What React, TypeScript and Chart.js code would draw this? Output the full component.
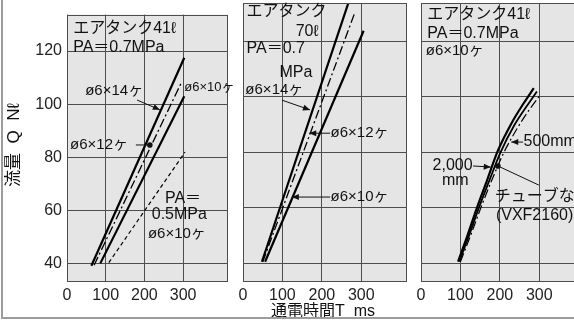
import React, { useEffect, useRef } from 'react';
import { Chart, registerables } from 'chart.js';
Chart.register(...registerables);

// ---------- shared axes ----------
const xTicks = [0, 100, 200, 300];
const yTicks = [40, 60, 80, 100, 120];
const xMin = 0;
const xMax = 416;
const yMin = 33.2;
const yMax = 133.7;

// ---------- panel 1 : air tank 41ℓ, PA=0.7MPa ----------
const p1Pipe14T = [63, 303];
const p1Pipe14Q = [39.3, 117.5];
const p1Pipe12T = [70, 295];
const p1Pipe12Q = [39.5, 108];
const p1Pipe10T = [86, 303];
const p1Pipe10Q = [40.2, 103];
const p1LowPa10T = [108, 305];
const p1LowPa10Q = [40.5, 82];

// ---------- panel 2 : air tank 70ℓ, PA=0.7MPa ----------
const p2Pipe14T = [48, 275];
const p2Pipe14Q = [40.5, 137];
const p2Pipe12T = [50, 283];
const p2Pipe12Q = [40.4, 130];
const p2Pipe10T = [56, 306];
const p2Pipe10Q = [40.5, 123.7];

// ---------- panel 3 : air tank 41ℓ, PA=0.7MPa, ø6×10 ----------
const p3Tube2000T = [94, 118, 142, 168, 195, 230, 260, 286];
const p3Tube2000Q = [40.5, 50, 60, 70, 80.5, 90.5, 97.5, 103];
const p3Tube500T = [97, 122, 147, 174, 202, 238, 268, 294];
const p3Tube500Q = [40.5, 50, 60, 70, 80, 90, 96.5, 101.8];
const p3NoTubeT = [100, 126, 152, 180, 209, 246, 276, 302];
const p3NoTubeQ = [40.5, 50, 60, 70, 79.5, 89, 95.5, 100.5];

const GRID = '#4d4d4d';
const BG = '#e5e5e5';
const FONT = '"Liberation Sans", Arial, "Noto Sans CJK JP", sans-serif';

const SOLID: number[] = [];
const DASHDOT = [9, 3, 2, 3];
const DASHED = [4, 3];

type Note = { text: string; x: number; y: number; align?: CanvasTextAlign; size?: number };
type Leader = { from: [number, number]; to: [number, number]; head: 'arrow' | 'dot' | 'none' };
type Series = { t: number[]; q: number[]; width: number; dash: number[]; curve?: boolean };
type Panel = {
  left: number;
  width: number;
  padLeft: number;
  padRight: number;
  yAxisWidth: number;
  showY: boolean;
  series: Series[];
  notes: Note[];
  leaders: Leader[];
  extra?: (ctx: CanvasRenderingContext2D, chart: any) => void;
};

const panels: Panel[] = [
  {
    left: 0,
    width: 240,
    padLeft: 0,
    padRight: 12,
    yAxisWidth: 67,
    showY: true,
    series: [
      { t: p1Pipe14T, q: p1Pipe14Q, width: 2.2, dash: SOLID },
      { t: p1Pipe12T, q: p1Pipe12Q, width: 1.3, dash: DASHDOT },
      { t: p1Pipe10T, q: p1Pipe10Q, width: 2.2, dash: SOLID },
      { t: p1LowPa10T, q: p1LowPa10Q, width: 1.2, dash: DASHED },
    ],
    notes: [
      { text: 'エアタンク41ℓ', x: 16, y: 128.6 },
      { text: 'PA＝0.7MPa', x: 16, y: 121.4 },
      { text: 'ø6×14ヶ', x: 47, y: 105.2, size: 15 },
      { text: 'ø6×10ヶ', x: 303, y: 106.5, size: 13 },
      { text: 'ø6×12ヶ', x: 8, y: 84.7, size: 15 },
      { text: 'PA＝', x: 253, y: 64.5 },
      { text: '0.5MPa', x: 219, y: 58.4 },
      { text: 'ø6×10ヶ', x: 209, y: 51.2, size: 15 },
    ],
    leaders: [
      { from: [181, 101.6], to: [240, 97.9], head: 'arrow' },
      { from: [178, 84.7], to: [214, 84.7], head: 'dot' },
    ],
    extra: (ctx) => {
      ctx.save();
      ctx.translate(14, 145);
      ctx.rotate(-Math.PI / 2);
      ctx.font = `17px ${FONT}`;
      ctx.fillStyle = '#111';
      ctx.textAlign = 'center';
      ctx.textBaseline = 'middle';
      ctx.fillText('流量  Q  Nℓ', 0, 0);
      ctx.restore();
    },
  },
  {
    left: 232,
    width: 186,
    padLeft: 11,
    padRight: 11,
    yAxisWidth: 0,
    showY: false,
    series: [
      { t: p2Pipe14T, q: p2Pipe14Q, width: 2.2, dash: SOLID },
      { t: p2Pipe12T, q: p2Pipe12Q, width: 1.3, dash: DASHDOT },
      { t: p2Pipe10T, q: p2Pipe10Q, width: 2.2, dash: SOLID },
    ],
    notes: [
      { text: 'エアタンク', x: 9, y: 130.5 },
      { text: '70ℓ', x: 192, y: 123.5, align: 'right' },
      { text: 'PA＝0.7', x: 9, y: 117.1 },
      { text: 'MPa', x: 176, y: 108.8, align: 'right' },
      { text: 'ø6×14ヶ', x: 153, y: 102.3, align: 'right', size: 15 },
      { text: 'ø6×12ヶ', x: 222, y: 86.8, size: 15 },
      { text: 'ø6×10ヶ', x: 222, y: 63.8, size: 15 },
    ],
    leaders: [
      { from: [99, 98.7], to: [170, 95.2], head: 'arrow' },
      { from: [221, 86.8], to: [168, 86.8], head: 'arrow' },
      { from: [221, 63.8], to: [124, 63.8], head: 'arrow' },
    ],
    extra: (ctx, chart) => {
      const a = chart.chartArea;
      ctx.save();
      ctx.font = `16px ${FONT}`;
      ctx.fillStyle = '#111';
      ctx.textAlign = 'center';
      ctx.textBaseline = 'middle';
      ctx.fillText('通電時間T  ms', (a.left + a.right) / 2 - 2, 312);
      ctx.restore();
    },
  },
  {
    left: 410,
    width: 186,
    padLeft: 11,
    padRight: 11,
    yAxisWidth: 0,
    showY: false,
    series: [
      { t: p3Tube2000T, q: p3Tube2000Q, width: 2.2, dash: SOLID, curve: true },
      { t: p3Tube500T, q: p3Tube500Q, width: 1.8, dash: SOLID, curve: true },
      { t: p3NoTubeT, q: p3NoTubeQ, width: 1.2, dash: DASHDOT, curve: true },
    ],
    notes: [
      { text: 'エアタンク41ℓ', x: 16, y: 129.4 },
      { text: 'PA＝0.7MPa', x: 16, y: 122.5 },
      { text: 'ø6×10ヶ', x: 12, y: 116.4, size: 15 },
      { text: '500mm', x: 260, y: 83.6 },
      { text: '2,000', x: 131, y: 75, align: 'right' },
      { text: 'mm', x: 121, y: 69.9, align: 'right' },
      { text: 'チューブなし', x: 187, y: 63.8 },
      { text: '(VXF2160)', x: 190, y: 57.3 },
    ],
    leaders: [
      { from: [259, 83.6], to: [229, 83.6], head: 'arrow' },
      { from: [132, 75], to: [177, 74.6], head: 'arrow' },
      { from: [299, 68.1], to: [195, 75], head: 'dot' },
    ],
  },
];

function makeDecor(panel: Panel) {
  return {
    id: 'panelDecor',
    beforeDraw(chart: any) {
      const { ctx, chartArea: a } = chart;
      ctx.save();
      ctx.fillStyle = BG;
      ctx.fillRect(a.left, a.top, a.right - a.left, a.bottom - a.top);
      ctx.restore();
    },
    afterDatasetsDraw(chart: any) {
      const { ctx, chartArea: a } = chart;
      const xs = chart.scales.x;
      const ys = chart.scales.y;
      ctx.save();
      ctx.strokeStyle = GRID;
      ctx.lineWidth = 1;
      const l = Math.round(a.left) + 0.5;
      const t = Math.round(a.top) + 0.5;
      const r = Math.round(a.right) - 0.5;
      const b = Math.round(a.bottom) - 0.5;
      ctx.strokeRect(l, t, r - l, b - t);

      ctx.fillStyle = '#111';
      ctx.textBaseline = 'middle';
      for (const n of panel.notes) {
        ctx.font = `${n.size || 16}px ${FONT}`;
        ctx.textAlign = n.align || 'left';
        ctx.fillText(n.text, xs.getPixelForValue(n.x), ys.getPixelForValue(n.y));
      }
      ctx.strokeStyle = '#111';
      ctx.lineWidth = 1;
      for (const ld of panel.leaders) {
        const x1 = xs.getPixelForValue(ld.from[0]);
        const y1 = ys.getPixelForValue(ld.from[1]);
        const x2 = xs.getPixelForValue(ld.to[0]);
        const y2 = ys.getPixelForValue(ld.to[1]);
        ctx.beginPath();
        ctx.moveTo(x1, y1);
        ctx.lineTo(x2, y2);
        ctx.stroke();
        if (ld.head === 'arrow') {
          const ang = Math.atan2(y2 - y1, x2 - x1);
          const len = 7;
          const wid = 3;
          ctx.beginPath();
          ctx.moveTo(x2, y2);
          ctx.lineTo(x2 - len * Math.cos(ang) + wid * Math.sin(ang), y2 - len * Math.sin(ang) - wid * Math.cos(ang));
          ctx.lineTo(x2 - len * Math.cos(ang) - wid * Math.sin(ang), y2 - len * Math.sin(ang) + wid * Math.cos(ang));
          ctx.closePath();
          ctx.fill();
        } else if (ld.head === 'dot') {
          ctx.beginPath();
          ctx.arc(x2, y2, 2.8, 0, Math.PI * 2);
          ctx.fill();
        }
      }
      if (panel.extra) panel.extra(ctx, chart);
      ctx.restore();
    },
  };
}

function PanelChart({ panel }: { panel: Panel }) {
  const ref = useRef<HTMLCanvasElement | null>(null);
  useEffect(() => {
    if (!ref.current) return;
    const tickFont = { family: FONT, size: 16 };
    const chart = new Chart(ref.current, {
      type: 'line',
      data: {
        datasets: panel.series.map((s) => ({
          data: s.t.map((t, i) => ({ x: t, y: s.q[i] })),
          borderColor: '#000',
          borderWidth: s.width,
          borderDash: s.dash,
          pointRadius: 0,
          fill: false,
          tension: s.curve ? 0.4 : 0,
          cubicInterpolationMode: s.curve ? 'monotone' : 'default',
        })),
      },
      options: {
        animation: false,
        responsive: false,
        maintainAspectRatio: false,
        events: [],
        layout: { padding: { left: panel.padLeft, right: panel.padRight, top: 3, bottom: 0 } },
        plugins: { legend: { display: false }, tooltip: { enabled: false }, title: { display: false } },
        scales: {
          x: {
            type: 'linear',
            min: xMin,
            max: xMax,
            afterBuildTicks: (ax: any) => {
              ax.ticks = xTicks.map((v) => ({ value: v }));
            },
            afterFit: (ax: any) => {
              ax.height = 40;
            },
            grid: { color: GRID, lineWidth: 1, drawTicks: false },
            border: { display: false },
            ticks: { padding: 4, font: tickFont, color: '#222', maxRotation: 0, autoSkip: false },
          },
          y: {
            type: 'linear',
            min: yMin,
            max: yMax,
            afterBuildTicks: (ax: any) => {
              ax.ticks = yTicks.map((v) => ({ value: v }));
            },
            afterFit: (ax: any) => {
              ax.width = panel.yAxisWidth;
            },
            grid: { color: GRID, lineWidth: 1, drawTicks: false },
            border: { display: false },
            ticks: { display: panel.showY, padding: 5, font: tickFont, color: '#222', autoSkip: false },
          },
        },
      },
      plugins: [makeDecor(panel)],
    } as any);
    return () => chart.destroy();
  }, [panel]);
  return (
    <canvas
      ref={ref}
      width={panel.width}
      height={322}
      style={{ position: 'absolute', left: panel.left, top: 0, width: panel.width, height: 322 }}
    />
  );
}

export default function App() {
  return (
    <div
      style={{
        position: 'fixed',
        left: 0,
        top: 0,
        width: 574,
        height: 322,
        overflow: 'hidden',
        background: '#fff',
      }}
    >
      {panels.map((p, i) => (
        <PanelChart key={i} panel={p} />
      ))}
      <div
        style={{
          position: 'absolute',
          left: 1,
          top: -2,
          width: 600,
          height: 321,
          borderLeft: '2px solid #9c9c9c',
          borderBottom: '2px solid #9c9c9c',
          boxSizing: 'border-box',
          pointerEvents: 'none',
        }}
      />
    </div>
  );
}
